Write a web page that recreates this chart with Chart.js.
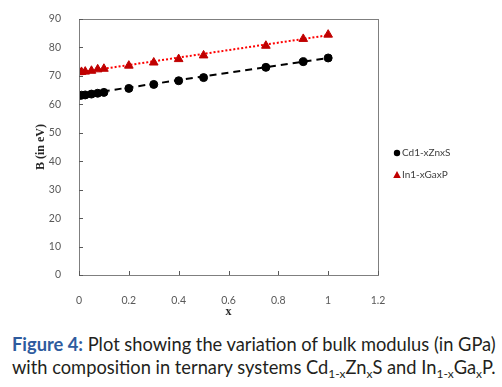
<!DOCTYPE html>
<html><head><meta charset="utf-8">
<script src="https://cdn.jsdelivr.net/npm/chart.js@4"></script>
<style>
body{margin:0;background:#fff;width:502px;height:387px;overflow:hidden;position:relative}
#c{position:absolute;left:0;top:0}
#cap{position:absolute;left:12px;top:333px;font-family:Lato,"Open Sans",sans-serif;font-size:18.3px;line-height:23px;color:#231f20;white-space:nowrap}
#cap b{color:#2e5b9e}
sub{font-size:12px;vertical-align:-4px;line-height:0}
</style></head><body>
<canvas id="c" width="502" height="322"></canvas>
<div id="cap"><b>Figure 4:</b> Plot showing the variation of bulk modulus (in GPa)<br>with composition in ternary systems Cd<sub>1-x</sub>Zn<sub>x</sub>S and In<sub>1-x</sub>Ga<sub>x</sub>P.</div>
<script>
const xValues = [0, 0.01, 0.025, 0.05, 0.075, 0.1, 0.2, 0.3, 0.4, 0.5, 0.75, 0.9, 1];
const cdZnS = [63.1, 63.2, 63.3, 63.6, 63.9, 64.2, 65.6, 67.0, 68.3, 69.4, 73.0, 75.0, 76.3];
const inGaP = [71.3, 71.4, 71.5, 71.8, 72.3, 72.5, 73.6, 74.7, 75.9, 77.2, 80.6, 83.0, 84.5];
const cdTrendX = [0, 1];
const cdTrend = [63.3, 76.3];
const inTrendX = [0, 1];
const inTrend = [71.2, 84.3];
const seriesNames = ["Cd1-xZnxS", "In1-xGaxP"];
const xTicks = [0, 0.2, 0.4, 0.6, 0.8, 1, 1.2];
const yTicks = [0, 10, 20, 30, 40, 50, 60, 70, 80, 90];

const pts = (xs, ys) => xs.map((x, i) => ({x, y: ys[i]}));
const tickFont = {family: "Lato, 'Open Sans', sans-serif", size: 10.5};

const framePlugin = {
  id: 'frame',
  afterDraw(chart) {
    const ctx = chart.ctx, a = chart.chartArea;
    ctx.save();
    ctx.strokeStyle = '#7f7f7f';
    ctx.lineWidth = 1;
    ctx.strokeRect(Math.round(a.left) + 0.5, Math.round(a.top) + 0.5, Math.round(a.right - a.left), Math.round(a.bottom - a.top));
    ctx.strokeStyle = '#595959';
    const xs = chart.scales.x, ys = chart.scales.y;
    xTicks.forEach(v => { const p = Math.round(xs.getPixelForValue(v)) + 0.5; ctx.beginPath(); ctx.moveTo(p, a.bottom); ctx.lineTo(p, a.bottom - 4); ctx.stroke(); });
    yTicks.forEach(v => { const p = Math.round(ys.getPixelForValue(v)) + 0.5; ctx.beginPath(); ctx.moveTo(a.left, p); ctx.lineTo(a.left + 4, p); ctx.stroke(); });
    // legend
    const lx = a.right + 19, ly = [153, 175];
    ctx.font = "10px Lato, 'Open Sans', sans-serif";
    ctx.textBaseline = 'middle';
    ctx.fillStyle = '#404040';
    [0, 1].forEach(i => {
      const ds = chart.data.datasets[i];
      ctx.save();
      ctx.fillStyle = ds.pointBackgroundColor;
      ctx.beginPath();
      if (i === 0) { ctx.arc(lx, ly[i], 3.2, 0, Math.PI * 2); }
      else { ctx.moveTo(lx, ly[i] - 4); ctx.lineTo(lx + 3.8, ly[i] + 3); ctx.lineTo(lx - 3.8, ly[i] + 3); ctx.closePath(); }
      ctx.fill();
      ctx.restore();
      ctx.fillText(seriesNames[i], lx + 5, ly[i]);
    });
    ctx.restore();
  }
};

new Chart(document.getElementById('c'), {
  type: 'scatter',
  data: {
    datasets: [
      {label: seriesNames[0], data: pts(xValues, cdZnS), pointStyle: 'circle', pointRadius: 4, pointBackgroundColor: '#000', pointBorderColor: '#000', showLine: false, order: 1},
      {label: seriesNames[1], data: pts(xValues, inGaP), pointStyle: 'triangle', pointRadius: 5, pointBackgroundColor: '#c00000', pointBorderColor: '#c00000', showLine: false, order: 1},
      {label: 'trend1', data: pts(cdTrendX, cdTrend), showLine: true, pointRadius: 0, borderColor: '#000', borderWidth: 2, borderDash: [7, 5], order: 2},
      {label: 'trend2', data: pts(inTrendX, inTrend), showLine: true, pointRadius: 0, borderColor: '#ff0000', borderWidth: 2, borderDash: [2, 2], order: 2}
    ]
  },
  options: {
    responsive: false, animation: false,
    layout: {padding: {left: 30, right: 124, top: 19, bottom: 0}},
    plugins: {legend: {display: false}, tooltip: {enabled: false}},
    scales: {
      x: {
        type: 'linear', min: 0, max: 1.2,
        afterBuildTicks: s => { s.ticks = xTicks.map(v => ({value: v})); },
        afterFit: s => { s.height = 322 - 275; },
        grid: {display: false}, border: {display: false},
        ticks: {color: '#595959', font: tickFont, padding: 11, callback: v => String(Math.round(v * 10) / 10)},
        title: {display: true, text: 'x', font: {family: "'Liberation Serif', serif", size: 12, weight: 'bold'}, color: '#262626', padding: {top: 0, bottom: 3}}
      },
      y: {
        min: 0, max: 90,
        afterBuildTicks: s => { s.ticks = yTicks.map(v => ({value: v})); },
        afterFit: s => { s.width = 79 - 30; },
        grid: {display: false}, border: {display: false},
        ticks: {color: '#595959', font: tickFont, padding: 10},
        title: {display: true, text: 'B (in eV)', font: {family: "'Liberation Serif', serif", size: 12, weight: 'bold'}, color: '#262626', padding: {top: 4, bottom: 0}}
      }
    }
  },
  plugins: [framePlugin]
});
</script>
</body></html>
